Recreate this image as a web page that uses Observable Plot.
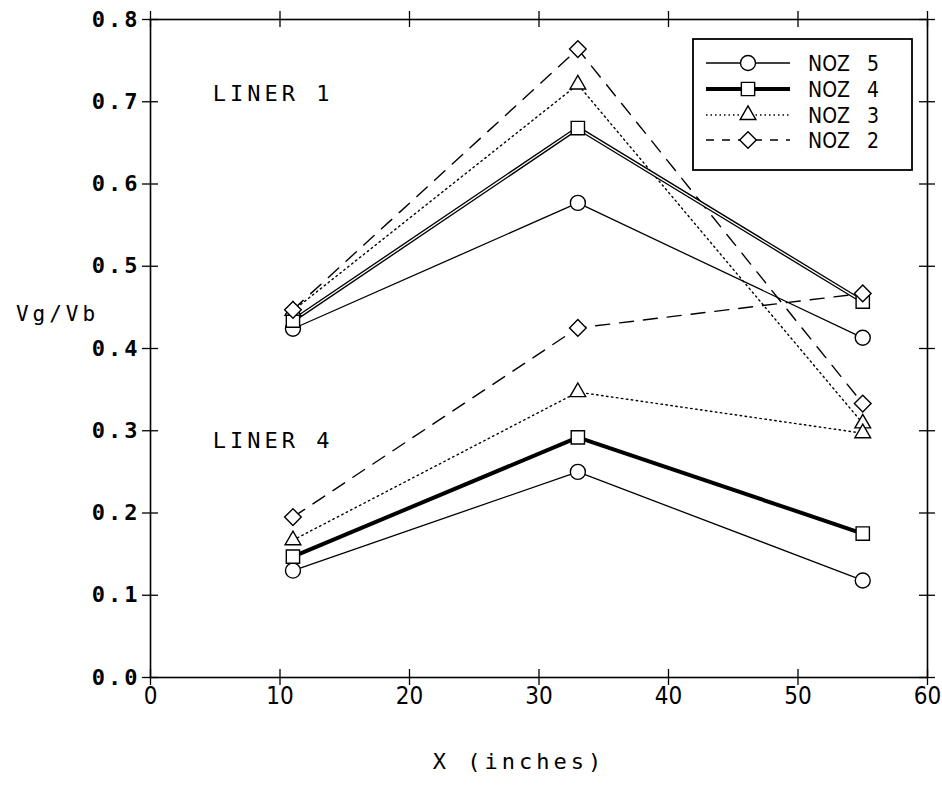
<!DOCTYPE html>
<html>
<head>
<meta charset="utf-8">
<script src="https://cdn.jsdelivr.net/npm/d3@7"></script>
<script src="https://cdn.jsdelivr.net/npm/@observablehq/plot@0.6"></script>
<style>
  body { margin: 0; background: #fff; }
  #chart svg { display: block; background: #fff; }
  #chart g[aria-label="y-axis tick label"] text { letter-spacing: 3px; }
  #chart g[aria-label="x-axis tick label"] text { font-stretch: condensed; }
  #chart g[aria-label="text"] text { letter-spacing: 4px; }
  #chart g.legend text { font-stretch: condensed; }
</style>
</head>
<body>
<div id="chart"></div>
<script>
// ---- data ----
const xPositions = [11, 33, 55];
const seriesNames = ["NOZ 5", "NOZ 4", "NOZ 3", "NOZ 2"];
const liner1_noz5 = [0.424, 0.577, 0.413];
const liner1_noz4 = [0.434, 0.668, 0.457];
const liner1_noz3 = [0.446, 0.721, 0.309];
const liner1_noz2 = [0.447, 0.764, 0.333];
const liner4_noz5 = [0.130, 0.250, 0.118];
const liner4_noz4 = [0.147, 0.292, 0.175];
const liner4_noz3 = [0.167, 0.347, 0.297];
const liner4_noz2 = [0.195, 0.425, 0.467];
const xTicks = [0, 10, 20, 30, 40, 50, 60];
const yTicks = [0, 0.1, 0.2, 0.3, 0.4, 0.5, 0.6, 0.7, 0.8];
const linerLabels = ["LINER 1", "LINER 4"];
const linerLabelX = [4.8, 4.8];
const linerLabelY = [0.710, 0.288];
const xTitle = "X (inches)";
const yTitle = "Vg/Vb";

// ---- build table ----
const table = {
  "LINER 1": [liner1_noz5, liner1_noz4, liner1_noz3, liner1_noz2],
  "LINER 4": [liner4_noz5, liner4_noz4, liner4_noz3, liner4_noz2]
};
const rows = [];
for (const liner of Object.keys(table)) {
  table[liner].forEach((vals, si) => {
    vals.forEach((v, i) => rows.push({liner, series: seriesNames[si], x: xPositions[i], y: v}));
  });
}
const annotations = linerLabels.map((t, i) => ({label: t, x: linerLabelX[i], y: linerLabelY[i]}));
const bySeries = s => rows.filter(d => d.series === s);
const z = d => d.liner;
const symbolRange = ["circle", "square", "triangle2", "diamond2"];
const condensed = "DejaVu Sans, sans-serif";
const mono = "DejaVu Sans Mono, monospace";

const chart = Plot.plot({
  width: 942,
  height: 785,
  marginLeft: 150,
  marginRight: 15,
  marginTop: 19,
  marginBottom: 108,
  x: {domain: [0, 60]},
  y: {domain: [0, 0.8]},
  symbol: {domain: seriesNames, range: symbolRange},
  marks: [
    Plot.frame({stroke: "black", strokeWidth: 1.6}),
    // crossing ticks on all four sides
    Plot.ruleX(xTicks, {x: d => d, y1: () => 0, y2: () => 0, insetTop: -8, insetBottom: -8, stroke: "black", strokeWidth: 1.3}),
    Plot.ruleX(xTicks, {x: d => d, y1: () => 0.8, y2: () => 0.8, insetTop: -8, insetBottom: -8, stroke: "black", strokeWidth: 1.3}),
    Plot.ruleY(yTicks, {y: d => d, x1: () => 0, x2: () => 0, insetLeft: -8, insetRight: -8, stroke: "black", strokeWidth: 1.3}),
    Plot.ruleY(yTicks, {y: d => d, x1: () => 60, x2: () => 60, insetLeft: -8, insetRight: -8, stroke: "black", strokeWidth: 1.3}),
    Plot.axisX({ticks: xTicks, tickSize: 0, tickPadding: 9, fontSize: 24, fontFamily: condensed, label: null}),
    Plot.axisY({ticks: yTicks, tickSize: 0, tickPadding: 10, tickFormat: d3.format(".1f"), fontSize: 22, fontWeight: "bold", fontFamily: mono, label: null}),
    // lines
    Plot.line(bySeries("NOZ 2"), {x: "x", y: "y", z, stroke: "black", strokeWidth: 1.4, strokeDasharray: "14,10"}),
    Plot.line(bySeries("NOZ 3"), {x: "x", y: "y", z, stroke: "black", strokeWidth: 1.4, strokeDasharray: "1.5,3.5"}),
    Plot.line(bySeries("NOZ 5"), {x: "x", y: "y", z, stroke: "black", strokeWidth: 1.3}),
    Plot.line(bySeries("NOZ 4"), {x: "x", y: "y", z, stroke: "black", strokeWidth: 4}),
    Plot.line(bySeries("NOZ 4").filter(d => d.liner === "LINER 1"), {x: "x", y: "y", stroke: "white", strokeWidth: 1.3}),
    // markers
    Plot.dot(rows, {x: "x", y: "y", symbol: "series", r: 7.5, fill: "white", stroke: "black", strokeWidth: 1.4}),
    // annotations
    Plot.text(annotations, {x: "x", y: "y", text: "label", textAnchor: "start", fontSize: 22, fontFamily: mono}),
    Plot.text([xTitle], {frameAnchor: "bottom", textAnchor: "middle", dx: -20, dy: 91, fontSize: 22, fontFamily: mono}),
    Plot.text([yTitle], {frameAnchor: "left", textAnchor: "middle", dx: -93, dy: -34, fontSize: 21, fontFamily: mono})
  ]
});
document.getElementById("chart").appendChild(chart);

// ---- legend (inside plot, top right) ----
const svg = d3.select(chart);
const lg = svg.append("g").attr("class", "legend").attr("text-anchor", "start");
const box = {x: 693, y: 39, w: 219, h: 131};
lg.append("rect").attr("x", box.x).attr("y", box.y).attr("width", box.w).attr("height", box.h)
  .attr("fill", "white").attr("stroke", "black").attr("stroke-width", 1.8);
const rowY = [63, 89, 115, 140];
const lineStyles = [
  {w: 1.3, dash: null},
  {w: 4, dash: null},
  {w: 1.3, dash: "1.5,3"},
  {w: 1.4, dash: "8,8"}
];
const symTypes = [d3.symbolCircle, d3.symbolSquare, d3.symbolTriangle2, d3.symbolDiamond2];
seriesNames.forEach((name, i) => {
  const y = rowY[i];
  const ln = lg.append("line").attr("x1", 706).attr("x2", 790).attr("y1", y).attr("y2", y)
    .attr("stroke", "black").attr("stroke-width", lineStyles[i].w);
  if (lineStyles[i].dash) ln.attr("stroke-dasharray", lineStyles[i].dash);
  lg.append("path").attr("transform", `translate(748,${y})`)
    .attr("d", d3.symbol(symTypes[i], Math.PI * 7.5 * 7.5)())
    .attr("fill", "white").attr("stroke", "black").attr("stroke-width", 1.4);
  const parts = name.split(" ");
  lg.append("text").attr("x", 808).attr("y", y).attr("dy", "0.36em").attr("text-anchor", "start")
    .attr("font-family", condensed).attr("font-size", 21).text(parts[0]);
  lg.append("text").attr("x", 867).attr("y", y).attr("dy", "0.36em").attr("text-anchor", "start")
    .attr("font-family", condensed).attr("font-size", 21).text(parts[1]);
});
</script>
</body>
</html>
